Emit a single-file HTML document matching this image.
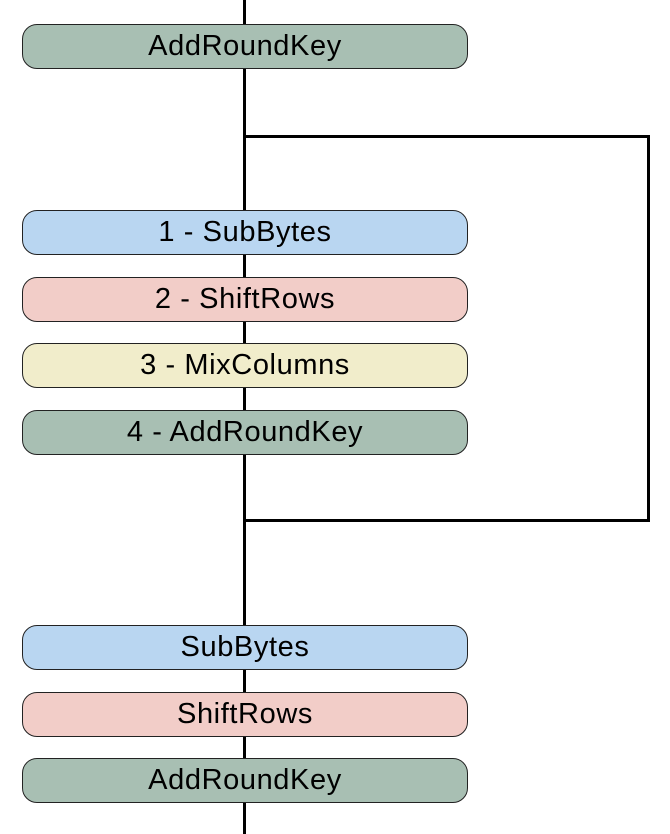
<!DOCTYPE html>
<html><head><style>
body{margin:0;width:670px;height:834px;background:#fff;position:relative;overflow:hidden;font-family:"Liberation Sans",Arial,sans-serif}
.l{position:absolute;background:#000}
.b{position:absolute;left:22px;width:444px;height:43px;border:1.5px solid #222;border-radius:15px;text-align:center;line-height:43px;font-size:29px;letter-spacing:0.6px;color:#000;box-sizing:content-box}
.g{background:#a8bfb3}.bl{background:#b9d6f1}.r{background:#f2cdc8}.y{background:#f1edcb}
</style></head><body>
<div class="l" style="left:243px;top:0;width:3px;height:834px"></div>
<div class="l" style="left:243px;top:135px;width:407px;height:3px"></div>
<div class="l" style="left:647px;top:135px;width:3px;height:387px"></div>
<div class="l" style="left:243px;top:519px;width:407px;height:3px"></div>
<div class="b g" style="top:24px">AddRoundKey</div>
<div class="b bl" style="top:210px">1 - SubBytes</div>
<div class="b r" style="top:277px">2 - ShiftRows</div>
<div class="b y" style="top:343px">3 - MixColumns</div>
<div class="b g" style="top:410px">4 - AddRoundKey</div>
<div class="b bl" style="top:625px">SubBytes</div>
<div class="b r" style="top:692px">ShiftRows</div>
<div class="b g" style="top:758px">AddRoundKey</div>
</body></html>
